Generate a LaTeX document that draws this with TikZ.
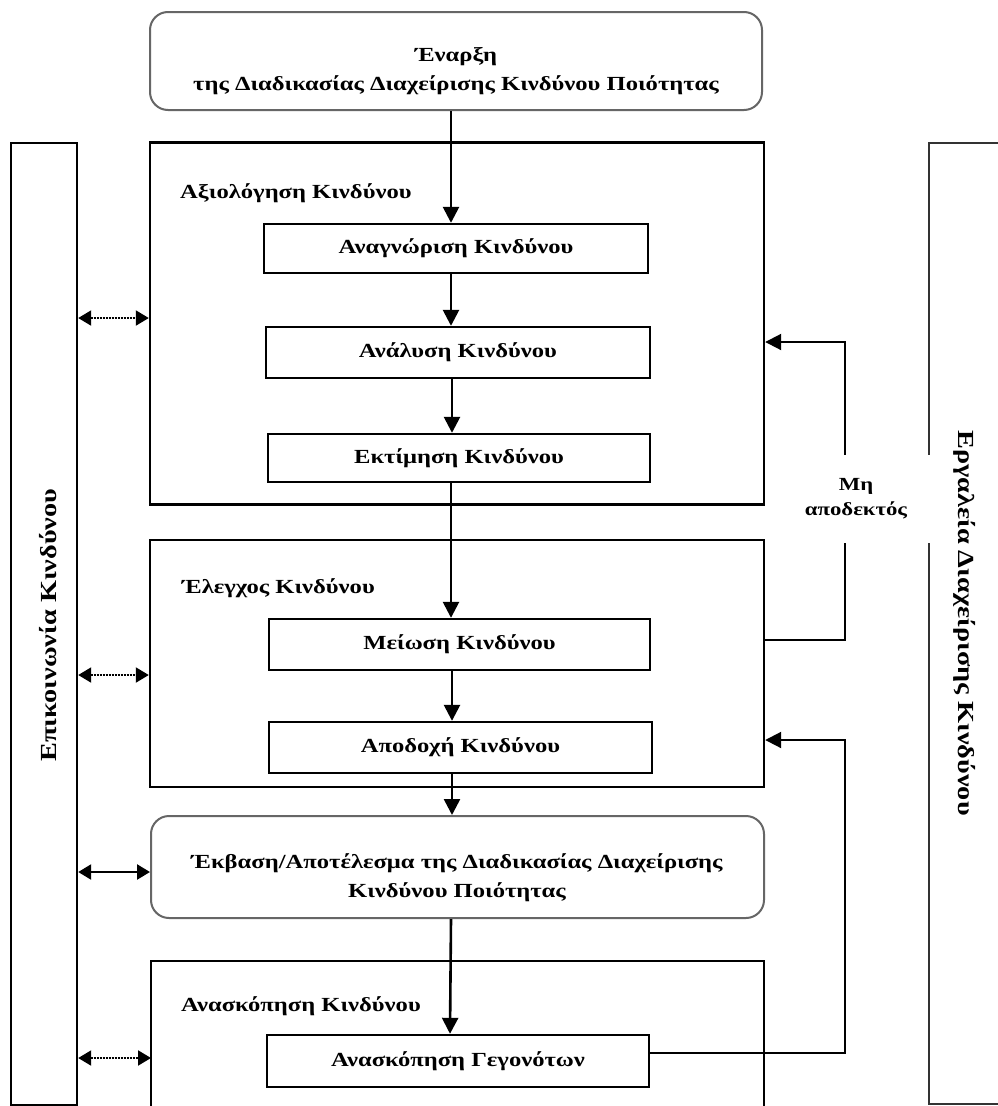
\documentclass[tikz,border=0pt]{standalone}
\usepackage{fontspec}
\setmainfont{Liberation Serif}[FakeStretch=1.23]
\usetikzlibrary{arrows.meta}
\begin{document}
\begin{tikzpicture}[x=1pt,y=-1pt,
  txt/.style={font=\fontsize{20}{29}\selectfont\bfseries},
  stepbox/.style={draw, line width=2.4pt, inner sep=0pt, txt},
  frame/.style={draw, line width=2.4pt, inner sep=0pt},
  roundbox/.style={draw=black!60, line width=2pt, rounded corners=18pt, inner sep=0pt},
  arr/.style={line width=2.6pt, -{Triangle[length=16pt,width=16pt]}},
  dbl/.style={line width=2.4pt, {Triangle[length=13pt,width=15pt]}-{Triangle[length=13pt,width=15pt]}},
  dbldot/.style={dbl, line width=2pt, dash pattern=on 2pt off 1pt},
  title/.style={anchor=west, txt, inner sep=0pt},
  sidetxt/.style={font=\fontsize{23}{27}\selectfont\bfseries, inner sep=0pt}
]
\useasboundingbox (0,0) rectangle (998,1106);
\fill[white] (0,0) rectangle (998,1106);

% top rounded box
\node[roundbox, minimum width=612pt, minimum height=98pt] (start) at (456,61) {};
\node[txt, align=center, inner sep=0pt] (startt) at (456,71)
  {Έναρξη\\της Διαδικασίας Διαχείρισης Κινδύνου Ποιότητας};

% left column
\node[frame, minimum width=66pt, minimum height=962pt] (comm) at (44,624) {};
\node[sidetxt, rotate=90] (commt) at (48,625) {Επικοινωνία Κινδύνου};

% right column (open on the right)
\coordinate (toolsTR) at (998,143);
\coordinate (toolsBR) at (998,1104);
\draw[line width=2.2pt, draw=black!80] (toolsTR) -| (929,1104) -- (toolsBR);
\node[sidetxt, rotate=-90] (toolst) at (965,623) {Εργαλεία Διαχείρισης Κινδύνου};

% assessment frame
\node[frame, minimum width=614pt, minimum height=362pt] (assess) at (457,323.5) {};
\node[title] (assesst) at (180,193) {Αξιολόγηση Κινδύνου};
\node[stepbox, minimum width=384pt, minimum height=49pt] (ident) at (456,248.5) {Αναγνώριση Κινδύνου};
\node[stepbox, minimum width=384pt, minimum height=51pt] (anal) at (458,352.5) {Ανάλυση Κινδύνου};
\node[stepbox, minimum width=382pt, minimum height=48pt] (eval) at (459,458) {Εκτίμηση Κινδύνου};

% control frame
\node[frame, minimum width=614pt, minimum height=247pt] (control) at (457,663.5) {};
\node[title] (controlt) at (182,588) {Έλεγχος Κινδύνου};
\node[stepbox, minimum width=381pt, minimum height=51pt] (reduce) at (459.5,644.5) {Μείωση Κινδύνου};
\node[stepbox, minimum width=383pt, minimum height=51pt] (accept) at (460.5,747.5) {Αποδοχή Κινδύνου};

% outcome rounded box
\node[roundbox, minimum width=613pt, minimum height=102pt] (outcome) at (457.5,867) {};
\node[txt, align=center, inner sep=0pt] (outcomet) at (457,878)
  {Έκβαση/Αποτέλεσμα της Διαδικασίας Διαχείρισης\\Κινδύνου Ποιότητας};

% review frame (open at bottom)
\coordinate (revBL) at (151,1106);
\coordinate (revBR) at (764,1106);
\draw[line width=2.4pt] (revBL) |- (764,961) -- (revBR);
\coordinate (revL) at (151,1058);
\node[title] (reviewt) at (181,1006) {Ανασκόπηση Κινδύνου};
\node[stepbox, minimum width=382pt, minimum height=52pt] (events) at (458,1061) {Ανασκόπηση Γεγονότων};

% main flow arrows
\draw[arr] (start.south -| 451,0) -- (ident.north -| 451,0);
\draw[arr] (ident.south -| 451,0) -- (anal.north -| 451,0);
\draw[arr] (anal.south -| 452,0) -- (eval.north -| 452,0);
\draw[arr] (eval.south -| 451,0) -- (reduce.north -| 451,0);
\draw[arr] (reduce.south -| 452,0) -- (accept.north -| 452,0);
\draw[arr] (accept.south -| 452,0) -- (outcome.north -| 452,0);
\draw[arr] (outcome.south -| 451,0) -- (events.north -| 450,0);

% communication double arrows
\draw[dbldot] (comm.east |- 0,318) -- (assess.west |- 0,318);
\draw[dbldot] (comm.east |- 0,675) -- (control.west |- 0,675);
\draw[dbl] (comm.east |- 0,872) -- (outcome.west |- 0,872);
\draw[dbldot] (comm.east |- revL) -- (revL);

% feedback loops
\draw[arr, line width=2pt] (control.east |- 0,640) -| (845,342) -- (assess.east |- 0,342);
\draw[arr, line width=2pt] (events.east |- 0,1053) -| (845,740) -- (control.east |- 0,740);

% label interrupting the loop and the tools column edge
\node[fill=white, inner sep=0pt, minimum width=150pt, minimum height=88pt, align=center,
  font=\fontsize{18.5}{25}\selectfont\bfseries] (notacc) at (856,499) {Μη\\αποδεκτός};
\end{tikzpicture}
\end{document}
